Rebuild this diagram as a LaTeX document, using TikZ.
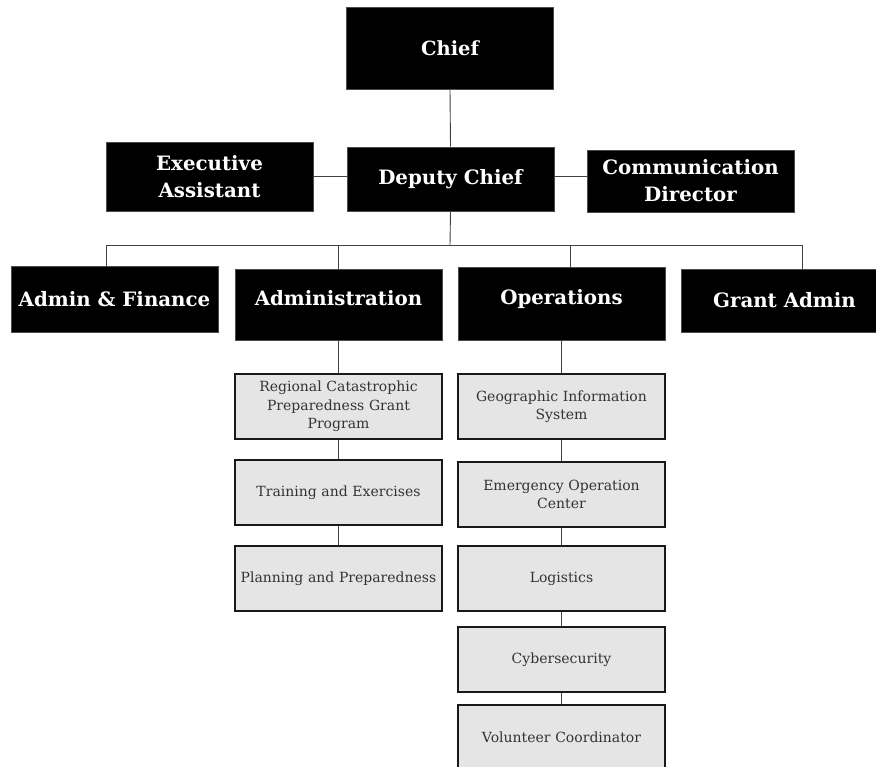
\documentclass[tikz,border=0pt]{standalone}
\usepackage{fontspec}
\setmainfont{DejaVu Serif}
\begin{document}
\begin{tikzpicture}[x=1pt,y=-1pt,
  head/.style={draw=black!70,line width=0.8pt,fill=black,text=white,font=\fontsize{19.8}{27}\selectfont\bfseries,
    minimum width=207pt,inner sep=0pt,align=center,anchor=center},
  lifted/.style={text height=14pt,text depth=12pt},
  sub/.style={draw=black!90,line width=1.2pt,fill=black!10,text=black!80,font=\fontsize{14}{18.5}\selectfont,
    minimum width=207pt,minimum height=65pt,inner sep=0pt,align=center,text width=205pt},
  link/.style={draw=black!75,line width=0.9pt}]
\useasboundingbox (0,0) rectangle (876,767);
\clip (0,0) rectangle (876,767);
% head boxes
\node[head,minimum height=82pt,font=\fontsize{19.5}{24}\selectfont\bfseries] (chief) at (450,48) {Chief};
\node[head,minimum height=69pt] (ea) at (209.5,176.5) {Executive\\Assistant};
\node[head,minimum height=64pt] (dc) at (450.5,179) {Deputy Chief};
\node[head,minimum height=62pt] (cd) at (690.5,181) {Communication\\Director};
\node[head,minimum height=66pt] (af) at (114.5,299) {Admin \& Finance};
\node[head,lifted,minimum height=71pt] (adm) at (338.5,304.5) {Administration};
\node[head,lifted,minimum height=73pt] (ops) at (561.5,303.5) {Operations};
\node[head,minimum height=63pt] (ga) at (784.5,300.5) {Grant Admin};
% sub boxes
\node[sub] (rc) at (338.5,406.5) {Regional Catastrophic\\Preparedness Grant\\Program};
\node[sub] (tr) at (338.5,492.5) {Training and Exercises};
\node[sub] (pl) at (338.5,578.5) {Planning and Preparedness};
\node[sub] (gis) at (561.5,406.5) {Geographic Information\\System};
\node[sub] (eoc) at (561.5,494.5) {Emergency Operation\\Center};
\node[sub] (lg) at (561.5,578.5) {Logistics};
\node[sub] (cy) at (561.5,659.5) {Cybersecurity};
\node[sub] (vc) at (561.5,737.5) {Volunteer Coordinator};
% connectors
\coordinate (bus) at (450,245);
\coordinate (b1) at (106,245);
\coordinate (b2) at (338.5,245);
\coordinate (b3) at (570,245);
\coordinate (b4) at (802,245);
\coordinate (mid) at (450,176);
\draw[link] (chief.south) -- (dc.north);
\draw[link] (ea.east |- mid) -- (dc.west |- mid);
\draw[link] (dc.east |- mid) -- (cd.west |- mid);
\draw[link] (dc.south) -- (bus);
\draw[link] (b1) -- (b4);
\draw[link] (b1) -- (b1 |- af.north);
\draw[link] (b2) -- (adm.north);
\draw[link] (b3) -- (b3 |- ops.north);
\draw[link] (b4) -- (b4 |- ga.north);
\draw[link] (adm.south) -- (rc.north);
\draw[link] (rc.south) -- (tr.north);
\draw[link] (tr.south) -- (pl.north);
\draw[link] (ops.south) -- (gis.north);
\draw[link] (gis.south) -- (eoc.north);
\draw[link] (eoc.south) -- (lg.north);
\draw[link] (lg.south) -- (cy.north);
\draw[link] (cy.south) -- (vc.north);
\end{tikzpicture}
\end{document}
